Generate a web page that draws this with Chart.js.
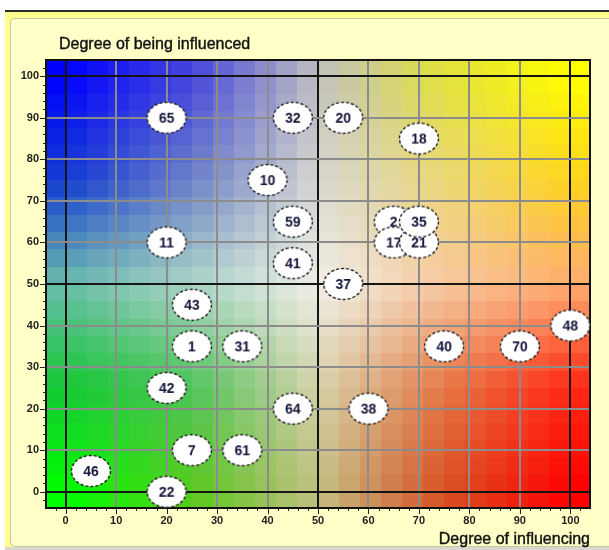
<!DOCTYPE html>
<html>
<head>
<meta charset="utf-8">
<script src="https://cdn.jsdelivr.net/npm/chart.js@4.4.1/dist/chart.umd.min.js"></script>
<style>
  html, body { margin: 0; padding: 0; background: #fff; }
  #wrap { position: relative; width: 609px; height: 550px; overflow: hidden; }
  #band { position: absolute; left: 5px; top: 10px; right: 0; bottom: 0; background: #ffff90; border-top: 2px solid #2a2a2a; }
  #panel { position: absolute; left: 10px; top: 18px; width: 620px; height: 527px; background: #ffffc8; border: 1px solid #c6c6a0; border-radius: 5px; }
  #foot { position: absolute; left: 5px; right: 0; top: 547px; bottom: 0; background: #d8d8d0; }
  #chart { position: absolute; left: 0; top: 0; }
</style>
</head>
<body>
<div id="wrap">
  <div id="band"></div>
  <div id="panel"></div>
  <div id="foot"></div>
  <canvas id="chart" width="609" height="550"></canvas>
</div>
<script>
// factor labels and their scores
let factorLabels = ["65", "32", "20", "18", "10", "59", "11", "2", "17", "21", "35", "41", "37",
  "43", "48", "1", "31", "40", "70", "42", "64", "38", "7", "61", "46", "22"];
let influencing = [20, 45, 55, 70, 40, 45, 20, 65, 65, 70, 70, 45, 55,
  25, 100, 25, 35, 75, 90, 20, 45, 60, 25, 35, 5, 20];
let influenced = [90, 90, 90, 85, 75, 65, 60, 65, 60, 60, 65, 55, 50,
  45, 40, 35, 35, 35, 35, 25, 20, 20, 10, 10, 5, 0];

let axisMin = -3.9;
let axisMax = 103.9;

// colour field control points at 0, 25, 50, 75, 100 (rows from y=0 up to y=100)
let fieldColors = [
  [[0, 255, 0], [90, 200, 30], [195, 190, 130], [215, 80, 35], [255, 0, 0]],
  [[20, 200, 50], [80, 195, 90], [215, 210, 170], [230, 120, 70], [255, 40, 20]],
  [[105, 188, 172], [172, 212, 200], [240, 240, 232], [247, 200, 160], [255, 172, 112]],
  [[20, 60, 210], [110, 130, 200], [215, 215, 210], [235, 215, 120], [255, 212, 30]],
  [[0, 0, 255], [70, 70, 220], [192, 192, 192], [225, 225, 60], [255, 255, 0]]
];

function fieldColor(x, y) {
  let fx = Math.min(Math.max(x / 25, 0), 3.9999);
  let fy = Math.min(Math.max(y / 25, 0), 3.9999);
  let i = Math.floor(fx), j = Math.floor(fy);
  let tx = fx - i, ty = fy - j;
  let c = [0, 0, 0];
  for (let k = 0; k < 3; k++) {
    let a = fieldColors[j][i][k] * (1 - tx) + fieldColors[j][i + 1][k] * tx;
    let b = fieldColors[j + 1][i][k] * (1 - tx) + fieldColors[j + 1][i + 1][k] * tx;
    c[k] = Math.round(a * (1 - ty) + b * ty);
  }
  return "rgb(" + c.join(",") + ")";
}

function makeBubble(txt) {
  let c = document.createElement("canvas");
  c.width = 42;
  c.height = 34;
  let g = c.getContext("2d");
  g.beginPath();
  g.ellipse(21, 17, 19.5, 15.5, 0, 0, Math.PI * 2);
  g.fillStyle = "#fff";
  g.fill();
  g.setLineDash([3, 2]);
  g.lineWidth = 1.4;
  g.strokeStyle = "#1a1a1a";
  g.stroke();
  g.font = 'bold 14px "Liberation Sans", Arial, sans-serif';
  g.fillStyle = "#14143a";
  g.textAlign = "center";
  g.textBaseline = "middle";
  g.fillText(txt, 21, 18);
  return c;
}

// background colour cells under the grid
let fieldPlugin = {
  id: "field",
  beforeDraw(chart) {
    let { ctx, scales } = chart;
    let step = 100 / 24;
    ctx.save();
    for (let i = -1; i <= 24; i++) {
      for (let j = -1; j <= 24; j++) {
        let x0 = Math.max(i * step, axisMin), x1 = Math.min((i + 1) * step, axisMax);
        let y0 = Math.max(j * step, axisMin), y1 = Math.min((j + 1) * step, axisMax);
        let cx = Math.min(Math.max((i + 0.5) * step, 0), 100);
        let cy = Math.min(Math.max((j + 0.5) * step, 0), 100);
        let px0 = Math.round(scales.x.getPixelForValue(x0));
        let px1 = Math.round(scales.x.getPixelForValue(x1));
        let py0 = Math.round(scales.y.getPixelForValue(y1));
        let py1 = Math.round(scales.y.getPixelForValue(y0));
        ctx.fillStyle = fieldColor(cx, cy);
        ctx.fillRect(px0, py0, px1 - px0, py1 - py0);
      }
    }
    ctx.restore();
  },
  beforeDatasetsDraw(chart) {
    let { ctx, chartArea } = chart;
    ctx.save();
    ctx.strokeStyle = "#111";
    ctx.lineWidth = 2;
    ctx.strokeRect(chartArea.left, chartArea.top, chartArea.right - chartArea.left, chartArea.bottom - chartArea.top);
    ctx.restore();
  },
  afterDraw(chart) {
    let { ctx, chartArea, scales } = chart;
    ctx.save();
    ctx.strokeStyle = "#222";
    ctx.lineWidth = 1;
    for (let v = -2; v <= 102; v += 2) {
      let len = v % 10 === 0 ? 6 : 3;
      let px = Math.round(scales.x.getPixelForValue(v)) + 0.5;
      ctx.beginPath();
      ctx.moveTo(px, chartArea.bottom);
      ctx.lineTo(px, chartArea.bottom + len);
      ctx.stroke();
      let py = Math.round(scales.y.getPixelForValue(v)) + 0.5;
      ctx.beginPath();
      ctx.moveTo(chartArea.left, py);
      ctx.lineTo(chartArea.left - len, py);
      ctx.stroke();
    }
    // axis titles
    ctx.fillStyle = "#111";
    ctx.strokeStyle = "#111";
    ctx.lineWidth = 0.4;
    ctx.font = '16px "Liberation Sans", Arial, sans-serif';
    ctx.textBaseline = "middle";
    ctx.textAlign = "left";
    ctx.fillText("Degree of being influenced", 59, 45);
    ctx.strokeText("Degree of being influenced", 59, 45);
    ctx.textAlign = "right";
    ctx.fillText("Degree of influencing", 590, 540);
    ctx.strokeText("Degree of influencing", 590, 540);
    ctx.restore();
  }
};

let points = influencing.map((x, i) => ({ x: x, y: influenced[i] }));
let bubbles = factorLabels.map(makeBubble);

function gridColor(c) {
  let v = c.tick.value;
  return (v === 0 || v === 50 || v === 100) ? "#151515" : "#8c8c8c";
}

let ctx = document.getElementById("chart").getContext("2d");
let myChart = new Chart(ctx, {
  type: "scatter",
  data: {
    datasets: [
      {
        data: points,
        pointStyle: bubbles,
        pointRadius: 18,
        pointHoverRadius: 18,
        clip: false,
      },
    ],
  },
  options: {
    responsive: false,
    animation: false,
    events: [],
    layout: { padding: { left: 10, right: 18, top: 60, bottom: 12 } },
    plugins: { legend: { display: false }, tooltip: { enabled: false } },
    scales: {
      x: {
        type: "linear",
        min: axisMin,
        max: axisMax,
        afterFit: (scale) => { scale.height = 30; },
        border: { display: false },
        grid: { color: gridColor, lineWidth: 2, drawTicks: false },
        ticks: {
          stepSize: 10,
          includeBounds: false,
          padding: 6,
          color: "#222",
          font: { family: '"Liberation Sans", Arial, sans-serif', size: 11, weight: "bold" },
        },
      },
      y: {
        type: "linear",
        min: axisMin,
        max: axisMax,
        afterFit: (scale) => { scale.width = 36; },
        border: { display: false },
        grid: { color: gridColor, lineWidth: 2, drawTicks: false },
        ticks: {
          stepSize: 10,
          includeBounds: false,
          padding: 7,
          color: "#222",
          font: { family: '"Liberation Sans", Arial, sans-serif', size: 11, weight: "bold" },
        },
      },
    },
  },
  plugins: [fieldPlugin],
});
</script>
</body>
</html>
